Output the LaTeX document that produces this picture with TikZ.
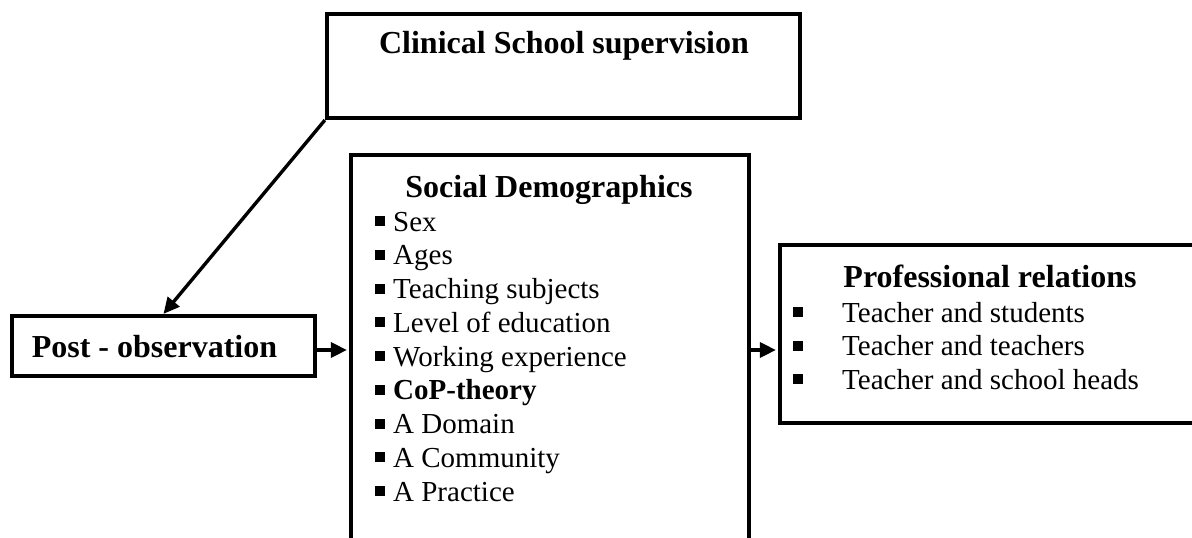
\documentclass[tikz,border=0pt]{standalone}
\usepackage{fontspec}
\setmainfont{Liberation Serif}
\usetikzlibrary{arrows.meta}

% square list bullet
\newcommand\sqbullet{\rule[5pt]{10pt}{10pt}}

\begin{document}
\begin{tikzpicture}[x=1pt,y=-1pt,
  frame/.style={draw=black,line width=4.2pt,fill=none,inner sep=0pt,
    minimum width=#1},
  title/.style={font=\fontsize{32}{36}\selectfont\bfseries,inner sep=0pt,anchor=base},
  item/.style={font=\fontsize{29}{33}\selectfont,inner sep=0pt,anchor=base west},
  link/.style={line width=3.4pt,-{Triangle[length=16pt,width=15pt]},shorten >=2pt}]
\useasboundingbox (0,0) rectangle (1192,538);

% boxes
\node[frame=473pt,minimum height=104pt] (clin) at (563.5,66) {};
\node[frame=303pt,minimum height=60pt] (post) at (163.5,346) {};
\node[frame=398pt,minimum height=445pt] (soc) at (550,377.5) {};
\node[frame=430pt,minimum height=178pt] (prof) at (995,334) {};

% headings
\node[title] (ct) at (564,53) {Clinical School supervision};
\node[title] (pt) at (154.5,357) {Post - observation};
\node[title] (st) at (549,197) {Social Demographics};
\node[title] (prt) at (990,287) {Professional relations};

% demographic items
\foreach \txt [count=\i] in {Sex,Ages,Teaching subjects,Level of education,
    Working experience,\textbf{CoP-theory},A Domain,A Community,A Practice}
  \node[item] (s\i) at (375,{231+33.75*(\i-1)}) {\sqbullet\hspace{8pt}\txt};

% relation items
\foreach \txt [count=\i] in {Teacher and students,Teacher and teachers,
    Teacher and school heads}
  \node[item] (p\i) at (793,{322+33.5*(\i-1)}) {\sqbullet\hspace{39pt}\txt};

% connectors
\coordinate (row) at (0,350);
\draw[link,shorten >=0pt] (clin.south west) -- (post.north);
\draw[link] (post.east |- row) -- (soc.west |- row);
\draw[link] (soc.east |- row) -- (prof.west |- row);
\end{tikzpicture}
\end{document}
